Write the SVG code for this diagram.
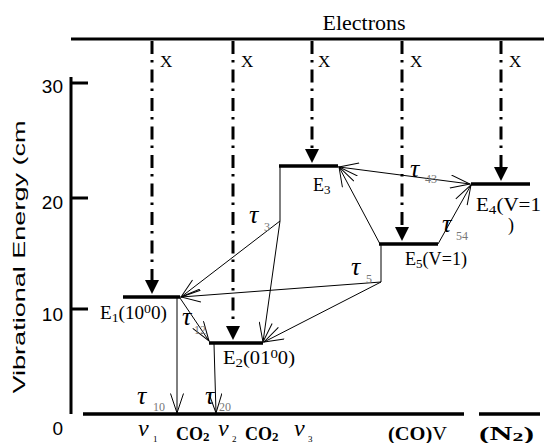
<svg xmlns="http://www.w3.org/2000/svg" width="544" height="443" viewBox="0 0 544 443">
<defs>
<style>
.lv{stroke:#000;stroke-width:3.5;fill:none}
.ax{stroke:#000;stroke-width:3;fill:none}
.dd{stroke:#000;stroke-width:3;stroke-dasharray:13 6 2.5 7;fill:none;marker-end:url(#fa)}
.c{stroke:#000;stroke-width:1;fill:none}
.ce{marker-end:url(#oa)}
.cb{marker-start:url(#oa);marker-end:url(#oa)}
.sf{font-family:"Liberation Serif","Times New Roman",serif;fill:#000}
.ss{font-family:"Liberation Sans",Arial,sans-serif;fill:#000}
.lbl{font-size:18px}
.s{font-size:13px}
.tau{font-family:"Liberation Serif","Times New Roman",serif;font-style:italic;font-size:26px}
.tsub{font-family:"Liberation Serif","Times New Roman",serif;font-size:12px;fill:#777}
.nu{font-family:"Liberation Serif","Times New Roman",serif;font-style:italic;font-size:24px}
.nsub{font-family:"Liberation Serif","Times New Roman",serif;font-size:9px;fill:#000}
.b{font-weight:bold}
</style>
<marker id="oa" markerWidth="21" markerHeight="14" refX="20" refY="7" orient="auto-start-reverse" markerUnits="userSpaceOnUse" viewBox="0 0 21 14"><path d="M0.5,0.5 L20,7 L0.5,13.5" fill="none" stroke="#000" stroke-width="1"/></marker>
<marker id="fa" markerWidth="14" markerHeight="14" refX="0" refY="7" orient="auto" markerUnits="userSpaceOnUse" viewBox="0 0 14 14"><path d="M0,0 L14,7 L0,14Z" fill="#000"/></marker>
</defs>
<rect width="544" height="443" fill="#fff"/>

<g id="axis">
<path class="ax" d="M71,77 V414 M71,83 H88 M71,198 H88 M71,309 H88"/>
<text class="ss" x="63" y="93" font-size="19" text-anchor="end">30</text>
<text class="ss" x="63" y="209" font-size="19" text-anchor="end">20</text>
<text class="ss" x="63" y="321" font-size="19" text-anchor="end">10</text>
<text class="ss" x="63" y="435" font-size="19" text-anchor="end">0</text>
<text class="ss" transform="translate(25,257) rotate(-90)" x="0" y="0" font-size="16" text-anchor="middle" textLength="273" lengthAdjust="spacingAndGlyphs">Vibrational Energy (cm</text>
</g>

<g id="electrons">
<path class="ax" d="M71,39 H544"/>
<text class="sf" x="364" y="30" font-size="22" text-anchor="middle">Electrons</text>
</g>

<g id="excitation">
<path class="dd" d="M152,41 V280"/>
<path class="dd" d="M233,41 V326"/>
<path class="dd" d="M312,41 V149"/>
<path class="dd" d="M402,41 V227"/>
<path class="dd" d="M501,41 V167"/>
<text class="sf" x="160" y="67" font-size="17">X</text>
<text class="sf" x="241" y="67" font-size="17">X</text>
<text class="sf" x="318" y="67" font-size="17">X</text>
<text class="sf" x="410" y="67" font-size="17">X</text>
<text class="sf" x="509" y="67" font-size="17">X</text>
</g>

<g id="ground">
<path class="lv" d="M83,414 H464 M479,414 H540"/>
<text class="nu" x="138" y="436">ν</text><text class="nsub" x="153" y="442">1</text>
<text class="sf b" x="176" y="440" font-size="18">CO<tspan font-size="13" dy="1">2</tspan></text>
<text class="nu" x="218" y="436">ν</text><text class="nsub" x="232" y="442">2</text>
<text class="sf b" x="245" y="440" font-size="18">CO<tspan font-size="13" dy="1">2</tspan></text>
<text class="nu" x="294" y="436">ν</text><text class="nsub" x="308" y="442">3</text>
<text class="sf" x="388" y="440" font-size="19" textLength="59" lengthAdjust="spacingAndGlyphs"><tspan class="b">(CO)</tspan>V</text>
<text class="sf b" x="479" y="440" font-size="19" textLength="55" lengthAdjust="spacingAndGlyphs">(N<tspan font-size="13" dy="1">2</tspan><tspan dy="-1">)</tspan></text>
</g>

<g id="E1">
<path class="lv" d="M123,297 H180"/>
<text class="sf lbl" x="100" y="319" textLength="67" lengthAdjust="spacingAndGlyphs">E<tspan class="s" dy="3">1</tspan><tspan dy="-3">(10</tspan><tspan class="s" dy="-6">0</tspan><tspan dy="6">0)</tspan></text>
</g>

<g id="E2">
<path class="lv" d="M209,343 H263"/>
<text class="sf lbl" x="223" y="364" textLength="72" lengthAdjust="spacingAndGlyphs">E<tspan class="s" dy="3">2</tspan><tspan dy="-3">(01</tspan><tspan class="s" dy="-6">0</tspan><tspan dy="6">0)</tspan></text>
</g>

<g id="E3">
<path class="lv" d="M279,166 H338"/>
<text class="sf lbl" x="313" y="191">E<tspan class="s" dy="3">3</tspan></text>
</g>

<g id="E5">
<path class="lv" d="M379,244 H438"/>
<text class="sf lbl" x="405" y="265" textLength="62" lengthAdjust="spacingAndGlyphs">E<tspan class="s" dy="3">5</tspan><tspan dy="-3">(V=1)</tspan></text>
</g>

<g id="E4">
<path class="lv" d="M471,184 H530"/>
<text class="sf lbl" x="476" y="211" textLength="65" lengthAdjust="spacingAndGlyphs">E<tspan class="s" dy="3">4</tspan><tspan dy="-3">(V=1</tspan></text>
<text class="sf lbl" x="508" y="231">)</text>
</g>

<g id="connectors">
<path class="c ce" d="M177,298 L177,413"/>
<path class="c ce" d="M214,344 L216,413"/>
<path class="c ce" d="M180,298 L209,341"/>
<path class="c" d="M280,166 L280,221"/>
<path class="c ce" d="M280,221 L181,297"/>
<path class="c ce" d="M280,221 L263,342"/>
<path class="c ce" d="M380,244 L339,167"/>
<path class="c" d="M381,244 L381,282"/>
<path class="c ce" d="M381,282 L181,297"/>
<path class="c ce" d="M381,282 L264,342"/>
<path class="c ce" d="M438,244 L471,185"/>
<path class="c cb" d="M339,167 L470,184"/>
</g>

<g id="rates">
<text class="tau" x="249" y="223">τ</text><text class="tsub" x="264" y="231">3</text>
<text class="tau" x="410" y="177">τ</text><text class="tsub" x="425" y="183">43</text>
<text class="tau" x="442" y="232">τ</text><text class="tsub" x="456" y="240">54</text>
<text class="tau" x="351" y="275">τ</text><text class="tsub" x="366" y="283">5</text>
<text class="tau" x="182" y="325">τ</text><text class="tsub" x="194" y="334">12</text>
<text class="tau" x="137" y="404">τ</text><text class="tsub" x="153" y="411">10</text>
<text class="tau" x="205" y="404">τ</text><text class="tsub" x="219" y="411">20</text>
</g>
</svg>
